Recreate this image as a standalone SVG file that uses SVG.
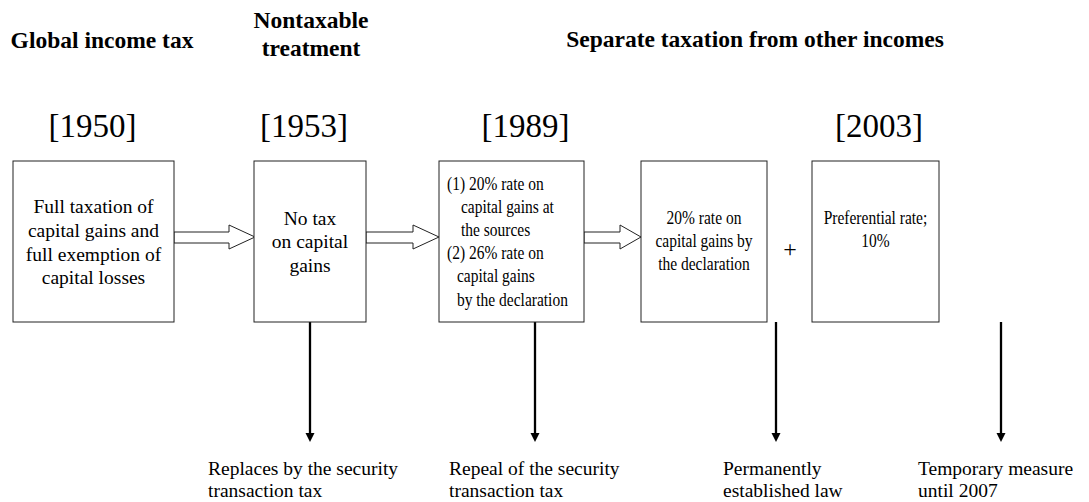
<svg xmlns="http://www.w3.org/2000/svg" width="1089" height="502" viewBox="0 0 1089 502">
<style>
text{font-family:"Liberation Serif","Times New Roman",serif;fill:#000}
.title{font-size:23.5px;font-weight:bold}
.year{font-size:33px}
.big{font-size:19.5px}
.small{font-size:18.5px}
.lbl{font-size:19.5px}
.box{fill:#fff;stroke:#222;stroke-width:1}
.hollow{fill:#fff;stroke:#222;stroke-width:1}
.vline{stroke:#000;stroke-width:2.3;fill:none}
.head{fill:#000}
</style>
<rect width="1089" height="502" fill="#fff"/>
<g id="titles">
<text class="title" x="102" y="48" text-anchor="middle">Global income tax</text>
<text class="title" x="311" y="28" text-anchor="middle">Nontaxable</text>
<text class="title" x="311" y="56" text-anchor="middle">treatment</text>
<text class="title" x="755" y="47" text-anchor="middle">Separate taxation from other incomes</text>
</g>
<g id="years">
<text class="year" x="92.5" y="137" text-anchor="middle">[1950]</text>
<text class="year" x="304" y="137" text-anchor="middle">[1953]</text>
<text class="year" x="525.5" y="137" text-anchor="middle">[1989]</text>
<text class="year" x="879" y="137" text-anchor="middle">[2003]</text>
</g>
<g id="connectors">
<polygon class="hollow" points="174,232 229,232 229,225 255,237 229,249 229,243 174,243"/>
<polygon class="hollow" points="366,232 413,232 413,225 439,237 413,249 413,243 366,243"/>
<polygon class="hollow" points="584,232 620,232 620,225 641,237 620,249 620,243 584,243"/>
<line class="vline" x1="310" y1="322" x2="310" y2="434"/>
<line class="vline" x1="535" y1="322" x2="535" y2="434"/>
<line class="vline" x1="776" y1="322" x2="776" y2="434"/>
<line class="vline" x1="1001" y1="322" x2="1001" y2="434"/>
<polygon class="head" points="305.5,433 314.5,433 310,442"/>
<polygon class="head" points="530.5,433 539.5,433 535,442"/>
<polygon class="head" points="771.5,433 780.5,433 776,442"/>
<polygon class="head" points="996.5,433 1005.5,433 1001,442"/>
</g>
<g id="node-1950">
<rect class="box" x="13" y="161" width="161" height="161"/>
<text class="big" text-anchor="middle"><tspan x="93.5" y="213">Full taxation of</tspan><tspan x="93.5" y="237">capital gains and</tspan><tspan x="93.5" y="261">full exemption of</tspan><tspan x="93.5" y="284">capital losses</tspan></text>
</g>
<g id="node-1953">
<rect class="box" x="254" y="161" width="112" height="161"/>
<text class="big" text-anchor="middle"><tspan x="310" y="225">No tax</tspan><tspan x="310" y="248">on capital</tspan><tspan x="310" y="272">gains</tspan></text>
</g>
<g id="node-1989">
<rect class="box" x="439" y="161" width="145" height="161"/>
<g transform="translate(447 0) scale(0.838 1)">
<text class="small"><tspan x="0" y="190">(1) 20% rate on</tspan><tspan x="16.7" y="213">capital gains at</tspan><tspan x="16.7" y="236">the sources</tspan><tspan x="0" y="259">(2) 26% rate on</tspan><tspan x="11.9" y="282">capital gains</tspan><tspan x="11.9" y="306">by the declaration</tspan></text>
</g>
</g>
<g id="node-2003a">
<rect class="box" x="641" y="161" width="126" height="161"/>
<g transform="translate(704 0) scale(0.838 1)">
<text class="small" text-anchor="middle"><tspan x="0" y="224">20% rate on</tspan><tspan x="0" y="247">capital gains by</tspan><tspan x="0" y="270">the declaration</tspan></text>
</g>
</g>
<g id="plus">
<text x="790" y="257" text-anchor="middle" style="font-size:24px">+</text>
</g>
<g id="node-2003b">
<rect class="box" x="812" y="161" width="127" height="161"/>
<g transform="translate(875.5 0) scale(0.838 1)">
<text class="small" text-anchor="middle"><tspan x="0" y="224">Preferential rate;</tspan><tspan x="0" y="247">10%</tspan></text>
</g>
</g>
<g id="labels">
<text class="lbl"><tspan x="208" y="475">Replaces by the security</tspan><tspan x="208" y="497">transaction tax</tspan></text>
<text class="lbl"><tspan x="449" y="475">Repeal of the security</tspan><tspan x="449" y="497">transaction tax</tspan></text>
<text class="lbl"><tspan x="723" y="475">Permanently</tspan><tspan x="723" y="497">established law</tspan></text>
<text class="lbl"><tspan x="918" y="475">Temporary measure</tspan><tspan x="918" y="497">until 2007</tspan></text>
</g>
</svg>
